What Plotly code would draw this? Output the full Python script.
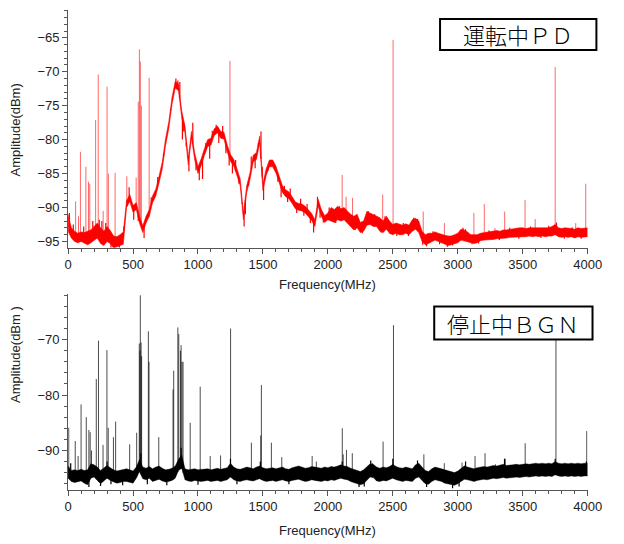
import numpy as np
import plotly.graph_objects as go

# ---------------- data ----------------
FREQ = list(range(0, 4001, 25))  # MHz grid of the noise-band envelopes

# top panel (運転中ＰＤ): lower / upper envelope of the red trace, dBm
TOP_LO = [
    -93.5, -94.5, -95.0, -95.2, -95.0, -95.3, -95.5, -95.2,
    -94.8, -94.5, -95.3, -95.6, -95.0, -95.3, -96.0, -95.8,
    -95.6, -95.4, -90.0, -89.1, -90.7, -90.3, -92.3, -93.7,
    -92.3, -91.3, -89.3, -88.3, -86.4, -84.3, -80.9, -78.4,
    -74.8, -72.4, -72.8, -76.8, -79.0, -83.7, -79.8, -83.0,
    -85.0, -83.8, -82.3, -81.0, -80.8, -79.4, -79.0, -79.8,
    -79.9, -81.8, -83.2, -83.9, -85.3, -86.8, -91.8, -87.8,
    -85.9, -83.3, -82.9, -80.5, -87.5, -85.3, -84.0, -84.0,
    -84.9, -86.4, -87.8, -88.4, -88.7, -89.4, -90.2, -90.4,
    -90.5, -90.8, -91.4, -91.9, -92.8, -89.8, -91.3, -92.2,
    -91.8, -92.0, -92.2, -91.8, -92.0, -91.8, -92.3, -92.8,
    -93.3, -93.0, -93.7, -93.5, -92.6, -92.5, -92.8, -92.8,
    -93.5, -93.7, -93.2, -93.8, -94.0, -93.8, -94.0, -94.0,
    -93.8, -94.0, -93.5, -93.2, -93.7, -95.0, -95.5, -95.3,
    -95.0, -94.8, -95.0, -95.2, -95.4, -95.6, -95.5, -95.3,
    -95.2, -94.8, -94.9, -95.0, -95.2, -95.3, -95.2, -94.9,
    -94.8, -94.8, -94.7, -94.7, -94.6, -94.6, -94.5, -94.5,
    -94.4, -94.4, -94.3, -94.4, -94.3, -94.3, -94.2, -94.3,
    -94.2, -94.3, -94.2, -94.3, -94.2, -94.2, -94.0, -94.3,
    -94.4, -94.3, -94.4, -94.3, -94.5, -94.3, -94.4, -94.3,
    -94.3,
]
TOP_HI = [
    -91.0, -93.0, -93.5, -93.8, -93.6, -93.7, -93.5, -93.3,
    -92.8, -92.3, -93.0, -93.5, -92.8, -93.4, -94.2, -94.3,
    -94.0, -93.6, -89.0, -88.1, -89.7, -89.3, -91.3, -92.7,
    -91.3, -90.3, -88.3, -87.3, -85.4, -83.3, -79.9, -77.4,
    -73.8, -71.4, -71.8, -75.8, -78.0, -82.7, -78.8, -82.0,
    -84.0, -82.8, -81.3, -80.0, -79.8, -78.4, -78.0, -78.8,
    -78.9, -80.8, -82.2, -82.9, -84.3, -85.8, -90.8, -86.8,
    -84.9, -82.3, -81.9, -79.5, -86.5, -84.3, -83.0, -83.0,
    -83.9, -85.4, -86.8, -87.4, -87.7, -88.4, -89.2, -89.4,
    -89.5, -89.8, -90.4, -90.9, -91.8, -88.8, -90.3, -91.2,
    -90.8, -90.0, -90.3, -89.8, -90.2, -90.0, -90.5, -91.0,
    -91.3, -91.0, -92.2, -92.0, -90.6, -90.8, -91.0, -91.2,
    -91.5, -92.0, -91.3, -92.0, -92.5, -92.3, -92.5, -92.6,
    -92.4, -92.6, -91.8, -91.6, -92.0, -93.5, -94.0, -93.8,
    -93.8, -93.6, -93.8, -94.0, -94.1, -94.2, -94.2, -94.0,
    -93.8, -93.2, -93.3, -93.6, -94.0, -94.0, -94.0, -93.8,
    -93.7, -93.7, -93.6, -93.5, -93.4, -93.5, -93.3, -93.3,
    -93.2, -93.2, -93.1, -93.0, -93.0, -93.1, -93.0, -93.0,
    -92.9, -93.0, -92.9, -93.0, -93.0, -92.8, -92.5, -93.0,
    -93.1, -93.0, -93.0, -93.1, -93.2, -93.0, -93.1, -93.0,
    -93.0,
]
# short excursions of the red trace beyond its band (noise texture)
TOP_WIG_F = [10, 40, 120, 190, 240, 260, 290, 330, 355, 395, 430, 470, 505, 540, 585,
             640, 690, 735, 790, 830, 845, 860, 880, 890, 910, 930, 960, 985, 1010, 1035,
             1060, 1090, 1110, 1140, 1160, 1190, 1215, 1240, 1265, 1290, 1315, 1340, 1355,
             1365, 1390, 1410, 1440, 1465, 1485, 1495, 1505, 1515, 1540, 1590, 1615, 1640,
             1665, 1690, 1710, 1740, 1760, 1790, 1815, 1840, 1865, 1890, 1920, 1940, 1965,
             2010, 2060, 2090, 2160, 2210, 2265, 2310, 2360, 2410, 2440, 2480, 2530, 2580,
             2620, 2660, 2690, 2730, 2760, 2810, 2860, 2920, 2960, 3040, 3060, 3110, 3160,
             3240, 3320, 3400, 3470, 3560, 3640, 3700, 3760, 3820, 3880, 3950]
TOP_WIG_DB = [-90.8, -92.5, -92.8, -92.0, -91.8, -92.0, -92.3, -96.3, -96.5, -96.2, -92.8,
              -87.0, -91.8, -92.0, -94.5, -88.5, -85.5, -82.0, -75.5, -71.0, -71.3, -71.5,
              -80.0, -78.8, -81.0, -84.7, -77.5, -84.5, -86.0, -85.8, -80.5, -82.8, -78.7,
              -77.8, -80.5, -78.0, -82.0, -83.8, -85.0, -83.0, -86.5, -89.5, -92.8, -91.0,
              -86.8, -82.5, -84.2, -80.5, -78.8, -84.0, -88.9, -85.5, -84.5, -84.2, -86.2,
              -88.5, -86.8, -89.2, -87.2, -89.5, -90.8, -88.7, -91.2, -89.5, -92.3, -93.7,
              -88.4, -91.5, -92.2, -90.0, -92.3, -89.8, -91.3, -93.3, -93.8, -90.5, -91.0,
              -93.7, -91.3, -93.9, -94.2, -92.3, -94.2, -91.5, -91.7, -95.5, -95.7, -93.5,
              -95.4, -95.8, -95.6, -93.0, -93.2, -95.4, -95.3, -93.4, -94.8, -93.0, -94.6,
              -92.8, -94.5, -92.7, -92.2, -94.6, -92.9, -94.6]
TOP_SPIKE_F = [58, 80, 95, 137, 157, 167, 212, 232, 270, 300, 310, 362, 452, 524,
               540, 549, 556, 564, 624, 1246, 2110, 2140, 2190, 2422, 2502, 2734,
               2897, 3124, 3204, 3286, 3361, 3518, 3596, 3750, 3908, 3985]
TOP_SPIKE_DB = [-89.1, -91.3, -81.8, -84.0, -86.2, -86.5, -77.1, -70.4, -90.5, -72.2,
                -85.0, -84.9, -85.4, -85.6, -74.4, -66.7, -68.5, -75.0, -70.9, -68.4,
                -85.2, -88.4, -88.6, -88.1, -65.3, -90.6, -92.3, -90.8, -89.5, -93.0,
                -90.6, -88.9, -91.7, -69.3, -92.3, -86.5]

# bottom panel (停止中ＢＧＮ): lower / upper envelope of the black trace, dBm
BOT_LO = [
    -95.0, -95.6, -95.8, -95.6, -95.5, -95.9, -96.2, -95.0,
    -94.8, -95.4, -96.0, -95.5, -95.0, -95.4, -95.7, -95.9,
    -95.8, -95.6, -95.6, -95.7, -95.9, -95.0, -93.8, -95.1,
    -95.3, -95.0, -95.6, -95.4, -95.2, -95.5, -95.7, -95.6,
    -95.4, -95.0, -93.6, -93.2, -95.3, -95.5, -95.6, -95.4,
    -95.5, -95.6, -95.5, -95.4, -95.6, -95.5, -95.4, -95.6,
    -95.5, -95.3, -94.8, -95.3, -95.5, -95.6, -95.4, -95.3,
    -95.4, -95.5, -95.3, -95.1, -95.4, -95.6, -95.5, -95.4,
    -95.6, -95.5, -95.3, -95.5, -95.6, -95.4, -95.3, -95.2,
    -95.4, -95.6, -95.5, -95.3, -95.4, -95.5, -95.6, -95.4,
    -95.5, -95.3, -95.4, -95.2, -95.0, -95.2, -95.3, -95.6,
    -95.8, -96.0, -96.2, -96.0, -95.4, -94.8, -94.9, -95.5,
    -95.6, -95.4, -95.5, -95.3, -95.0, -95.3, -95.5, -95.6,
    -95.4, -95.5, -95.6, -95.0, -94.8, -95.4, -96.0, -96.1,
    -95.6, -95.3, -95.4, -95.6, -95.9, -96.0, -96.2, -96.3,
    -96.0, -95.6, -95.2, -95.3, -95.5, -95.6, -95.4, -95.3,
    -95.2, -95.3, -95.1, -95.0, -95.1, -95.0, -94.9, -95.0,
    -95.0, -94.9, -94.8, -94.9, -94.8, -94.7, -94.8, -94.7,
    -94.6, -94.7, -94.6, -94.7, -94.6, -94.7, -94.4, -94.6,
    -94.7, -94.6, -94.7, -94.6, -94.7, -94.6, -94.7, -94.6,
    -94.6,
]
BOT_HI = [
    -92.8, -93.6, -93.5, -93.6, -93.4, -93.6, -93.5, -92.4,
    -92.6, -93.0, -93.6, -93.2, -92.7, -93.1, -93.5, -93.7,
    -93.6, -93.4, -93.3, -93.5, -93.7, -93.0, -91.6, -93.0,
    -93.2, -92.9, -93.3, -93.0, -92.8, -93.2, -93.5, -93.4,
    -93.2, -92.8, -91.6, -90.8, -93.3, -93.5, -93.4, -93.3,
    -93.5, -93.4, -93.3, -93.3, -93.5, -93.3, -93.2, -93.4,
    -93.3, -93.1, -92.3, -93.0, -93.3, -93.4, -93.2, -93.0,
    -93.1, -93.3, -93.0, -92.8, -93.1, -93.3, -93.2, -93.1,
    -93.3, -93.2, -93.0, -93.3, -93.4, -93.1, -92.9, -92.8,
    -93.0, -93.2, -93.1, -92.9, -93.0, -93.1, -93.2, -93.0,
    -93.1, -92.9, -93.0, -92.8, -92.6, -92.8, -92.9, -93.2,
    -93.4, -93.6, -93.8, -93.5, -93.0, -92.4, -92.5, -93.0,
    -93.2, -93.0, -93.1, -92.9, -92.5, -92.9, -93.1, -93.2,
    -93.0, -93.2, -93.3, -92.6, -92.3, -93.0, -93.6, -93.8,
    -93.3, -93.0, -93.1, -93.3, -93.5, -93.7, -93.9, -94.0,
    -93.7, -93.2, -92.8, -93.0, -93.2, -93.3, -93.1, -93.0,
    -92.9, -93.0, -92.8, -92.7, -92.8, -92.6, -92.5, -92.7,
    -92.7, -92.6, -92.5, -92.6, -92.5, -92.4, -92.5, -92.4,
    -92.3, -92.4, -92.3, -92.4, -92.3, -92.4, -92.0, -92.3,
    -92.4, -92.3, -92.4, -92.3, -92.4, -92.3, -92.4, -92.3,
    -92.3,
]
BOT_WIG_F = [20, 160, 250, 300, 330, 420, 560, 610, 760, 870, 1000, 1250, 1300, 1480,
             1700, 2110, 2240, 2280, 2330, 2500, 2690, 2760, 2960, 3010, 3060, 3360, 3750, 3990]
BOT_WIG_DB = [-92.3, -96.6, -96.4, -92.0, -96.1, -96.3, -90.5, -96.1, -96.3, -89.5, -96.2,
              -91.5, -96.1, -92.0, -96.1, -92.0, -96.6, -96.5, -91.8, -91.5, -91.8, -96.6,
              -96.8, -96.5, -92.0, -91.5, -91.5, -92.0]
BOT_SPIKE_F = [5, 55, 77, 100, 140, 160, 170, 180, 217, 234, 269, 299, 309, 349, 366,
               474, 528, 548, 553, 556, 562, 566, 618, 623, 698, 808, 813, 845, 852,
               865, 870, 877, 885, 940, 1017, 1094, 1174, 1251, 1411, 1483, 1488, 1565,
               1645, 1879, 1911, 2111, 2118, 2143, 2188, 2343, 2425, 2505, 2739, 2896,
               3033, 3058, 3133, 3210, 3290, 3365, 3444, 3519, 3756, 3912, 3993]
BOT_SPIKE_DB = [-85.9, -88.3, -91.0, -81.7, -84.0, -86.3, -86.7, -90.0, -77.1, -70.2,
                -89.0, -71.9, -85.9, -87.6, -84.8, -88.9, -86.8, -70.7, -72.0, -62.0,
                -70.5, -73.0, -68.5, -74.0, -87.6, -79.0, -75.6, -67.8, -69.0, -72.0,
                -71.0, -74.0, -74.0, -85.0, -78.5, -91.0, -90.9, -68.0, -88.6, -87.3,
                -78.2, -88.6, -91.2, -91.0, -92.0, -86.0, -90.7, -89.9, -90.5, -92.3,
                -88.4, -67.4, -90.7, -92.3, -92.2, -92.6, -91.0, -90.5, -92.5, -91.5,
                -92.5, -88.7, -70.0, -92.5, -86.5]

X_TICKS = [0, 500, 1000, 1500, 2000, 2500, 3000, 3500, 4000]
TOP_Y_TICKS = [-95, -90, -85, -80, -75, -70, -65]
BOT_Y_TICKS = [-90, -80, -70]
LABEL_TOP = "運転中ＰＤ"
LABEL_BOT = "停止中ＢＧＮ"
X_TITLE = "Frequency(MHz)"
Y_TITLE = "Amplitude(dBm)"
Y_TITLE_BOT = "Amplitude(dBm )"


def seg_xy(freqs, vals, base_arr):
    xs, ys = [], []
    for f, p in zip(freqs, vals):
        base = float(np.interp(f, FREQ, base_arr))
        xs += [f, f, None]
        ys += [base, p, None]
    return xs, ys


def mid(lo, hi):
    return [(a + b) / 2 for a, b in zip(lo, hi)]


fig = go.Figure()

# ---- top panel ----
RED = "#ff0000"
fig.add_trace(go.Scatter(x=FREQ, y=TOP_LO, mode="lines", line=dict(color=RED, width=0.6),
                         xaxis="x", yaxis="y"))
fig.add_trace(go.Scatter(x=FREQ, y=TOP_HI, mode="lines", line=dict(color=RED, width=0.6),
                         fill="tonexty", fillcolor=RED, xaxis="x", yaxis="y"))
wx, wy = seg_xy(TOP_WIG_F, TOP_WIG_DB, mid(TOP_LO, TOP_HI))
fig.add_trace(go.Scatter(x=wx, y=wy, mode="lines", line=dict(color=RED, width=1.2),
                         xaxis="x", yaxis="y"))
sx, sy = seg_xy(TOP_SPIKE_F, TOP_SPIKE_DB, TOP_LO)
fig.add_trace(go.Scatter(x=sx, y=sy, mode="lines", line=dict(color="rgba(255,0,0,0.6)", width=1),
                         xaxis="x", yaxis="y"))

# ---- bottom panel ----
fig.add_trace(go.Scatter(x=FREQ, y=BOT_LO, mode="lines", line=dict(color="#000", width=0.4),
                         xaxis="x2", yaxis="y2"))
fig.add_trace(go.Scatter(x=FREQ, y=BOT_HI, mode="lines", line=dict(color="#000", width=0.4),
                         fill="tonexty", fillcolor="#000", xaxis="x2", yaxis="y2"))
wx, wy = seg_xy(BOT_WIG_F, BOT_WIG_DB, mid(BOT_LO, BOT_HI))
fig.add_trace(go.Scatter(x=wx, y=wy, mode="lines", line=dict(color="#000", width=1.2),
                         xaxis="x2", yaxis="y2"))
sx, sy = seg_xy(BOT_SPIKE_F, BOT_SPIKE_DB, BOT_LO)
fig.add_trace(go.Scatter(x=sx, y=sy, mode="lines", line=dict(color="rgba(0,0,0,0.7)", width=1),
                         xaxis="x2", yaxis="y2"))

W, H = 624, 544
XD = [66 / W, 601 / W]
tickfont = dict(family="Liberation Sans, Arial, sans-serif", size=13, color="#222")
ax_common = dict(showgrid=False, zeroline=False, showline=True, linecolor="#555", linewidth=1,
                 ticks="outside", tickcolor="#555", ticklen=5, tickfont=tickfont)

fig.update_layout(
    width=W, height=H, margin=dict(l=0, r=0, t=0, b=0),
    paper_bgcolor="white", plot_bgcolor="white", showlegend=False, hovermode=False,
    xaxis=dict(domain=XD, range=[0, 4000], tickvals=X_TICKS, anchor="y",
               minor=dict(dtick=100, ticks="outside", ticklen=3, tickcolor="#555"), **ax_common),
    yaxis=dict(domain=[1 - 248 / H, 1 - 10 / H], range=[-95.9, -60.9], tickvals=TOP_Y_TICKS,
               anchor="x", minor=dict(dtick=1, ticks="outside", ticklen=3, tickcolor="#555"),
               **ax_common),
    xaxis2=dict(domain=XD, range=[0, 4000], tickvals=X_TICKS, anchor="y2",
                minor=dict(dtick=100, ticks="outside", ticklen=3, tickcolor="#555"), **ax_common),
    yaxis2=dict(domain=[1 - 490.7 / H, 1 - 294.7 / H], range=[-97.1, -61.8], tickvals=BOT_Y_TICKS,
                anchor="x2", minor=dict(dtick=2, ticks="outside", ticklen=3, tickcolor="#555"),
                **ax_common),
)

titlefont = dict(family="Liberation Sans, Arial, sans-serif", size=13, color="#222")
ann = [
    dict(text=X_TITLE, x=333 / W, y=1 - 285 / H),
    dict(text=X_TITLE, x=333 / W, y=1 - 531 / H),
    dict(text=Y_TITLE, x=12 / W, y=1 - 130 / H, textangle=-90),
    dict(text=Y_TITLE_BOT, x=12 / W, y=1 - 355 / H, textangle=-90),
]
for a in ann:
    fig.add_annotation(xref="paper", yref="paper", showarrow=False, font=titlefont,
                       xanchor="center", yanchor="middle", **a)

# label boxes
for (x0, y0, x1, y1, txt) in [(449, 19, 610, 50, LABEL_TOP), (443, 307, 606, 340, LABEL_BOT)]:
    fig.add_shape(type="rect", xref="paper", yref="paper", x0=x0 / W, x1=x1 / W,
                  y0=1 - y1 / H, y1=1 - y0 / H, line=dict(color="black", width=2),
                  fillcolor="white", layer="above")
    fig.add_annotation(xref="paper", yref="paper", x=(x0 + x1) / 2 / W, y=1 - (y0 + y1) / 2 / H,
                       text=txt, showarrow=False, xanchor="center", yanchor="middle",
                       font=dict(family="Noto Sans CJK JP", size=22, color="black", weight=300))

fig.write_html("out.html")
